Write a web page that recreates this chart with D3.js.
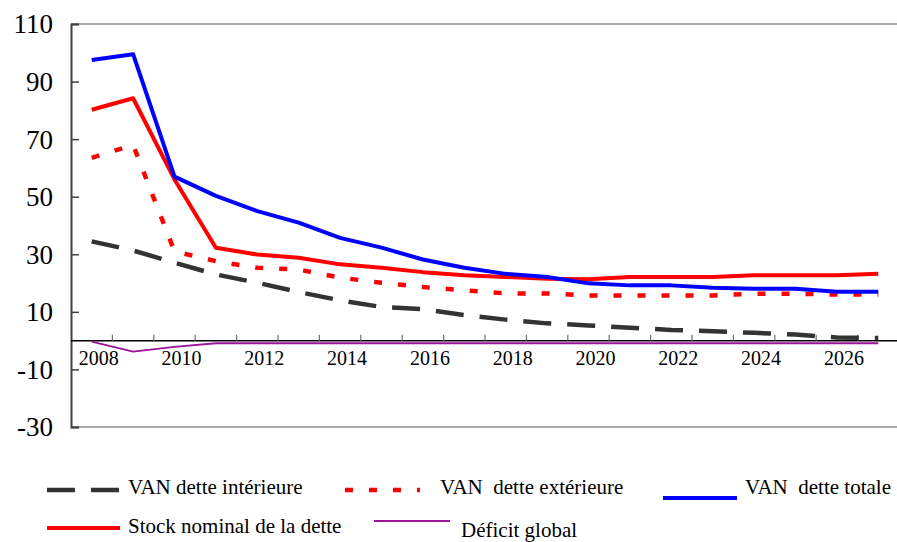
<!DOCTYPE html>
<html>
<head>
<meta charset="utf-8">
<script src="https://cdn.jsdelivr.net/npm/d3@7"></script>
<style>
  body { margin: 0; background: white; }
</style>
</head>
<body>
<div id="chart"></div>
<script>
// Data
var years = [2008, 2009, 2010, 2011, 2012, 2013, 2014, 2015, 2016, 2017,
             2018, 2019, 2020, 2021, 2022, 2023, 2024, 2025, 2026, 2027];
var tickYears = [2008, 2010, 2012, 2014, 2016, 2018, 2020, 2022, 2024, 2026];
var yTicks = [110, 90, 70, 50, 30, 10, -10, -30];

var vanInterieure = [34.5, 31.3, 27.1, 23.0, 20.1, 16.9, 14.0, 11.7, 10.9, 8.9,
                     7.3, 6.0, 5.3, 4.5, 3.7, 3.3, 2.7, 2.1, 1.1, 0.9];
var vanExterieure = [63.5, 68.0, 31.0, 27.6, 25.3, 24.7, 21.9, 20.1, 18.6, 17.5,
                     16.4, 16.4, 15.7, 15.7, 15.7, 15.7, 16.3, 16.3, 16.0, 16.0];
var vanTotale = [97.5, 99.5, 57.0, 50.3, 45.0, 41.0, 35.7, 32.3, 28.2, 25.3,
                 23.2, 22.1, 19.9, 19.2, 19.2, 18.4, 18.0, 18.0, 17.0, 17.0];
var stockNominal = [80.2, 84.2, 56.0, 32.3, 29.9, 28.8, 26.5, 25.3, 23.8, 22.7,
                    22.1, 21.5, 21.3, 22.1, 22.1, 22.1, 22.7, 22.7, 22.7, 23.2];
var deficitGlobal = [-0.3, -3.8, -2.2, -0.9, -0.9, -0.9, -0.9, -0.9, -0.9, -0.9,
                     -0.9, -0.9, -0.9, -0.9, -0.9, -0.9, -0.9, -0.9, -0.9, -0.9];

var width = 897
var height = 542
var serif = "'Liberation Serif', 'DejaVu Serif', 'Times New Roman', serif"

var svg = d3.select('#chart')
  .append('svg')
  .attr('width', width)
  .attr('height', height)
  .attr('font-family', serif)

var x_scale = d3.scaleBand()
    .domain(years)
    .range([71, 899]);
var y_scale = d3.scaleLinear()
    .domain([-30, 110])
    .range([427, 24]);

var xc = function (d) { return x_scale(d) + x_scale.bandwidth() / 2; }

// Frame lines (top and bottom)
svg.append("line")
    .attr("x1", 71).attr("x2", 897)
    .attr("y1", y_scale(110)).attr("y2", y_scale(110))
    .style("stroke", "#8c8c8c")
    .style("stroke-width", 1.5)
svg.append("line")
    .attr("x1", 71).attr("x2", 897)
    .attr("y1", y_scale(-30)).attr("y2", y_scale(-30))
    .style("stroke", "#8c8c8c")
    .style("stroke-width", 1.5)

// Y axis
var yAxis = d3.axisRight(y_scale)
    .tickValues(yTicks)
    .tickSize(8)
    .tickFormat("");

var yg = svg.append("g")
    .attr("transform", "translate(71,0)")
    .call(yAxis)
yg.select(".domain").style("stroke", "#404040").style("stroke-width", 2)
yg.selectAll(".tick line").style("stroke", "#404040").style("stroke-width", 1.5)

svg.selectAll(".ylab")
    .data(yTicks)
    .enter().append("text")
    .attr("class", "ylab")
    .attr("x", 53)
    .attr("y", function (d) { return y_scale(d); })
    .attr("dy", "0.35em")
    .style("font-family", serif)
    .style("text-anchor", "end")
    .style("font-size", "27px")
    .text(function (d) { return d; })

// X axis at zero
var xAxis = d3.axisTop(x_scale)
    .tickSize(0)
    .tickFormat("");
var xg = svg.append("g")
    .attr("transform", "translate(0," + y_scale(0) + ")")
    .call(xAxis)
xg.select(".domain").attr("d", "M71,0H897").style("stroke", "#000").style("stroke-width", 1.5)

// category boundary ticks
svg.selectAll(".xtick")
    .data(years.slice(1))
    .enter().append("line")
    .attr("class", "xtick")
    .attr("x1", function (d) { return x_scale(d); })
    .attr("x2", function (d) { return x_scale(d); })
    .attr("y1", y_scale(0))
    .attr("y2", y_scale(0) - 6)
    .style("stroke", "#707070")
    .style("stroke-width", 1.2)

svg.selectAll(".xlab")
    .data(tickYears)
    .enter().append("text")
    .attr("class", "xlab")
    .attr("x", function (d) { return xc(d) + 7; })
    .attr("y", 365)
    .style("font-family", serif)
    .style("text-anchor", "middle")
    .style("font-size", "20px")
    .text(function (d) { return d; })

// Lines
var series = [
    {name: "VAN dette intérieure", values: vanInterieure, color: "#333333", w: 4.5, dash: "28,16"},
    {name: "VAN  dette extérieure", values: vanExterieure, color: "#ff0000", w: 4.5, dash: "8,16"},
    {name: "VAN  dette totale", values: vanTotale, color: "#0000ff", w: 4, dash: null},
    {name: "Stock nominal de la dette", values: stockNominal, color: "#ff0000", w: 4, dash: null},
    {name: "Déficit global", values: deficitGlobal, color: "#9b1399", w: 1.8, dash: null}
]

var line = d3.line()
    .x(function (d, i) { return xc(years[i]); })
    .y(function (d) { return y_scale(d); })

// draw order: purple, black, dotted, red, blue
var order = [4, 0, 1, 3, 2]
order.forEach(function (k) {
    var s = series[k]
    svg.append("path")
        .datum(s.values)
        .attr("d", line)
        .style("fill", "none")
        .style("stroke", s.color)
        .style("stroke-width", s.w)
        .style("stroke-dasharray", s.dash)
        .style("stroke-linejoin", "round")
})

// Legend
var legendPos = [
    {lx1: 47, lx2: 119, ly: 490, tx: 128, ty: 494},
    {lx1: 345, lx2: 420, ly: 490, tx: 440, ty: 494},
    {lx1: 663, lx2: 737, ly: 498, tx: 745, ty: 494},
    {lx1: 47, lx2: 120, ly: 528, tx: 128, ty: 533},
    {lx1: 374, lx2: 450, ly: 521, tx: 461, ty: 537}
]

series.forEach(function (s, i) {
    var p = legendPos[i]
    svg.append("line")
        .attr("x1", p.lx1).attr("x2", p.lx2)
        .attr("y1", p.ly).attr("y2", p.ly)
        .style("stroke", s.color)
        .style("stroke-width", s.w)
        .style("stroke-dasharray", s.dash)
    svg.append("text")
        .attr("x", p.tx)
        .attr("y", p.ty)
        .style("font-family", serif)
        .style("font-size", "21px")
        .style("white-space", "pre")
        .text(s.name)
})
</script>
</body>
</html>
